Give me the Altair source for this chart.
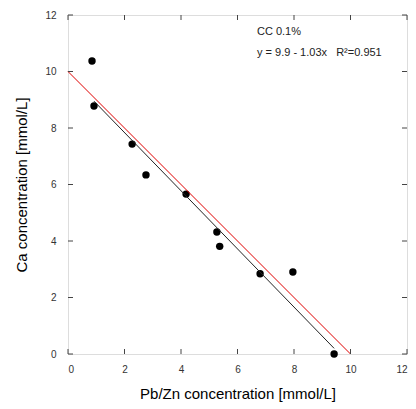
import altair as alt
import pandas as pd

# data
pb_zn = [0.85, 0.92, 2.27, 2.76, 4.18, 5.27, 5.37, 6.80, 7.96, 9.42]
ca = [10.37, 8.78, 7.43, 6.34, 5.66, 4.32, 3.81, 2.84, 2.90, 0.0]

fit_x = [0.92, 9.42]
fit_y = [8.95, 0.20]
ref_x = [0.0, 10.0]
ref_y = [10.0, 0.0]

tick_values = [0, 2, 4, 6, 8, 10, 12]
annot_lines = ["CC 0.1%", "y = 9.9 - 1.03x\u00a0\u00a0\u00a0R\u00b2=0.951"]

W, H = 339, 339
FONT = "Liberation Sans"

pts = pd.DataFrame({"x": pb_zn, "y": ca})
fit = pd.DataFrame({"x": fit_x, "y": fit_y})
ref = pd.DataFrame({"x": ref_x, "y": ref_y})
ticks = pd.DataFrame({"x": tick_values, "y": tick_values})
annot = pd.DataFrame({"t": annot_lines, "row": [0, 1]})

xs = alt.Scale(domain=[0, 12], nice=False)
ys = alt.Scale(domain=[0, 12], nice=False)

xax = alt.Axis(values=tick_values, format="d", grid=False, ticks=False, domain=False,
               labelPadding=10, labelFontSize=10, labelColor="#333", labelFont=FONT,
               titleFont=FONT, titleFontSize=15,
               titleFontWeight="normal", titleColor="#000", titlePadding=12)
yax = alt.Axis(values=tick_values, format="d", grid=False, ticks=False, domain=False,
               labelPadding=12, labelFontSize=10, labelColor="#333", labelFont=FONT,
               titleFont=FONT, titleFontSize=15,
               titleFontWeight="normal", titleColor="#000", titlePadding=15)

XT = "Pb/Zn concentration [mmol/L]"
YT = "Ca concentration [mmol/L]"

def X():
    return alt.X("x:Q", scale=xs, axis=xax, title=XT)

def Y():
    return alt.Y("y:Q", scale=ys, axis=yax, title=YT)

points = alt.Chart(pts).mark_circle(size=55, color="black", opacity=1).encode(x=X(), y=Y())

ref_line = alt.Chart(ref).mark_line(color="#e00000", strokeWidth=1).encode(x=X(), y=Y())
fit_line = alt.Chart(fit).mark_line(color="#222", strokeWidth=1).encode(x=X(), y=Y())

tick_col = "#444"
bottom = alt.Chart(ticks).mark_rule(color=tick_col).encode(
    x=X(), y=alt.value(H), y2=alt.value(H - 5))
top = alt.Chart(ticks).mark_rule(color=tick_col).encode(
    x=X(), y=alt.value(0), y2=alt.value(5))
left = alt.Chart(ticks).mark_rule(color=tick_col).encode(
    y=Y(), x=alt.value(0), x2=alt.value(5))
right = alt.Chart(ticks).mark_rule(color=tick_col).encode(
    y=Y(), x=alt.value(W), x2=alt.value(W - 5))

def annot_text(row, ypx):
    return alt.Chart(annot).transform_filter(alt.datum.row == row).mark_text(
        align="left", baseline="middle", fontSize=11, font=FONT, color="#222"
    ).encode(x=alt.value(189), y=alt.value(ypx), text="t:N")

text1 = annot_text(0, 17)
text2 = annot_text(1, 38)

chart = alt.layer(points, ref_line, fit_line, bottom, top, left, right, text1, text2).properties(
    width=W, height=H,
    autosize=alt.AutoSizeParams(type="none"),
    padding={"left": 60, "top": 7, "right": 1, "bottom": 48},
).configure_view(stroke="#444", strokeWidth=1).configure(background="white")

chart.save("out.html", embed_options={"renderer": "svg", "actions": False})
